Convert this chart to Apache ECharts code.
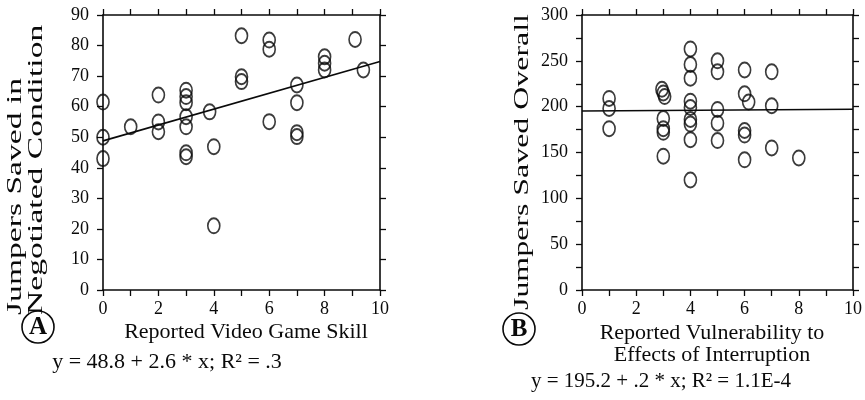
<!DOCTYPE html>
<html><head><meta charset="utf-8">
<script src="https://cdn.jsdelivr.net/npm/echarts@6/dist/echarts.min.js"></script>
<style>html,body{margin:0;padding:0;background:#fff}#c{width:865px;height:400px}</style>
</head><body><div id="c"></div>
<script>
// Panel A: reported video game skill vs jumpers saved in negotiated condition
const skillA = [0, 0, 0, 1, 2, 2, 2, 3, 3, 3, 3, 3, 3, 3, 3.85, 4, 4, 5, 5, 5, 6, 6, 6, 7, 7, 7, 7, 8, 8, 8, 9.1, 9.4];
const savedA = [61.5, 50, 43, 53.4, 63.8, 55, 51.8, 65.4, 63.3, 61.3, 56.7, 53.4, 44.9, 43.6, 58.3, 46.9, 21, 83.2, 69.8, 68.2, 81.8, 78.8, 55.1, 67.1, 61.3, 51.5, 50.2, 76.3, 74.2, 72, 82, 72];
// Panel B: reported vulnerability to interruption vs jumpers saved overall
const vulnB = [1, 1, 1, 2.95, 3, 3.05, 3, 3, 3, 3, 4, 4, 4, 4, 4, 4, 4, 4, 4, 5, 5, 5, 5, 5, 6, 6, 6.15, 6, 6, 6, 7, 7, 7, 8];
const savedB = [209, 198, 176, 219, 215, 211, 187, 176, 172, 146, 263, 246, 231, 206, 199, 186, 181, 164, 120, 250, 238, 197, 182, 163, 240, 214, 205, 174, 169, 142, 238, 201, 155, 144];
// Regression lines (endpoints from the printed equations)
const fitA = [[0, 48.8], [10, 74.8]];
const fitB = [[0, 195.2], [10, 197.2]];
// Axis ranges
const xRange = [0, 10];
const yRangeA = [0, 90];
const yRangeB = [0, 300];
// Texts
const yTitleA1 = 'Jumpers Saved in';
const yTitleA2 = 'Negotiated Condition';
const yTitleB = 'Jumpers Saved Overall';
const xTitleA = 'Reported Video Game Skill';
const xTitleB1 = 'Reported Vulnerability to';
const xTitleB2 = 'Effects of Interruption';
const eqA = 'y = 48.8 + 2.6 * x; R\u00b2 = .3';
const eqB = 'y = 195.2 + .2 * x; R\u00b2 = 1.1E-4';
const panelLabels = ['A', 'B'];

const FONT = "'Liberation Serif', 'Times New Roman', serif";
const INK = '#0a0a0a';

function axis(gridIndex, position, min, max, interval, showLabel, minorSplit) {
  return {
    type: 'value', gridIndex, position, min, max, interval,
    axisLine: { show: true, onZero: false, lineStyle: { color: INK, width: 1.6 } },
    axisTick: { show: true, inside: false, length: 6, lineStyle: { color: INK, width: 1.3 } },
    minorTick: { show: !!minorSplit, splitNumber: minorSplit || 5, length: 6, lineStyle: { color: INK, width: 1.3 } },
    splitLine: { show: false },
    axisLabel: { show: showLabel, color: INK, fontFamily: FONT, fontSize: 18, margin: (position === 'left' ? 14 : 10) }
  };
}

const pairsA = skillA.map((x, i) => [x, savedA[i]]);
const pairsB = vulnB.map((x, i) => [x, savedB[i]]);

const scatterStyle = {
  type: 'scatter', symbol: 'circle', symbolSize: [12, 15],
  itemStyle: { color: 'rgba(0,0,0,0)', borderColor: INK, borderWidth: 1.8 },
  emphasis: { disabled: true }, silent: true, z: 3
};

function vText(text, x, y, size, stretch) {
  return { type: 'text', x, y, rotation: Math.PI / 2, scaleX: stretch, scaleY: 1,
    style: { text, font: size + 'px ' + FONT, fill: INK, align: 'left', verticalAlign: 'middle' } };
}
function hText(text, x, y, size, weight) {
  return { type: 'text', x, y,
    style: { text, font: (weight ? weight + ' ' : '') + size + 'px ' + FONT, fill: INK, align: 'center', verticalAlign: 'middle' } };
}
function circled(letter, cx, cy) {
  return [
    { type: 'circle', shape: { cx, cy, r: 16 }, style: { fill: 'none', stroke: INK, lineWidth: 1.6 } },
    hText(letter, cx, cy + 1, 25, 'bold')
  ];
}

const option = {
  animation: false,
  backgroundColor: '#fff',
  grid: [
    { left: 103, top: 15, width: 277, height: 275, outerBoundsMode: 'none' },
    { left: 582, top: 15, width: 271, height: 275, outerBoundsMode: 'none' }
  ],
  xAxis: [
    axis(0, 'bottom', xRange[0], xRange[1], 2, true, 2),
    axis(0, 'top', xRange[0], xRange[1], 1, false, 0),
    axis(1, 'bottom', xRange[0], xRange[1], 2, true, 2),
    axis(1, 'top', xRange[0], xRange[1], 1, false, 0)
  ],
  yAxis: [
    axis(0, 'left', yRangeA[0], yRangeA[1], 10, true, 0),
    axis(0, 'right', yRangeA[0], yRangeA[1], 10, false, 0),
    axis(1, 'left', yRangeB[0], yRangeB[1], 50, true, 2),
    axis(1, 'right', yRangeB[0], yRangeB[1], 25, false, 0)
  ],
  series: [
    { type: 'line', xAxisIndex: 0, yAxisIndex: 0, data: fitA, symbol: 'none', silent: true,
      lineStyle: { color: INK, width: 1.6 }, z: 2 },
    Object.assign({ xAxisIndex: 0, yAxisIndex: 0, data: pairsA }, scatterStyle),
    { type: 'line', xAxisIndex: 2, yAxisIndex: 2, data: fitB, symbol: 'none', silent: true,
      lineStyle: { color: INK, width: 1.6 }, z: 2 },
    Object.assign({ xAxisIndex: 2, yAxisIndex: 2, data: pairsB }, scatterStyle)
  ],
  graphic: [
    vText(yTitleA1, 15.5, 315, 21, 1.6),
    vText(yTitleA2, 36.5, 315, 21, 1.6),
    vText(yTitleB, 522, 310, 22, 1.45),
    hText(xTitleA, 246, 332, 22),
    hText(xTitleB1, 712, 333, 22),
    hText(xTitleB2, 712, 355, 22),
    hText(eqA, 167, 362, 22),
    hText(eqB, 661, 381, 21)
  ].concat(circled(panelLabels[0], 38, 327), circled(panelLabels[1], 519, 329))
};

const chart = echarts.init(document.getElementById('c'), null, { renderer: 'canvas' });
chart.setOption(option);
</script>
</body></html>
